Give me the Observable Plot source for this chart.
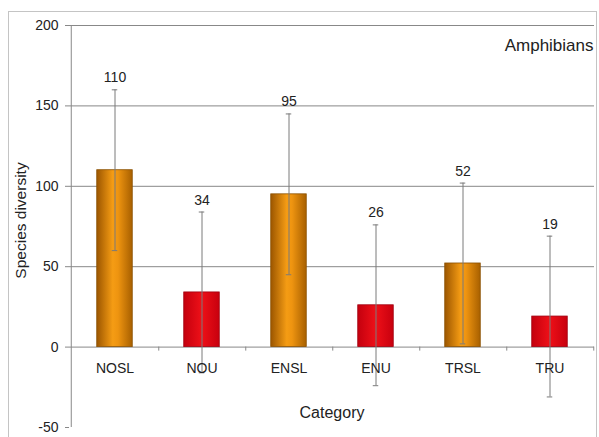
<!DOCTYPE html>
<html>
<head>
<meta charset="utf-8">
<script src="https://cdn.jsdelivr.net/npm/d3@7"></script>
<script src="https://cdn.jsdelivr.net/npm/@observablehq/plot@0.6"></script>
<style>
  html, body { margin: 0; padding: 0; background: #ffffff; }
  #wrap { position: relative; width: 599px; height: 437px; overflow: hidden; }
  #border { position: absolute; left: 8px; top: 11px; width: 589px; height: 440px; border: 1px solid #c4c4c4; box-sizing: border-box; }
  #wrap svg { position: absolute; left: 0; top: 0; display: block; }
</style>
</head>
<body>
<div id="wrap"><div id="border"></div></div>
<script>
const categories = ["NOSL", "NOU", "ENSL", "ENU", "TRSL", "TRU"];
const values = [110, 34, 95, 26, 52, 19];
const errors = [50, 50, 50, 50, 50, 50];
const groups = ["SL", "U", "SL", "U", "SL", "U"];
const yTicks = [-50, 0, 50, 100, 150, 200];
const yLabel = "Species diversity";
const xLabel = "Category";
const panelTitle = "Amphibians";

const data = categories.map((c, i) => ({cat: c, v: values[i], e: errors[i], g: groups[i]}));

const W = 599, H = 437, mL = 69, mR = 5, mT = 25, mB = 10;
const bw = (W - mL - mR) / categories.length;
const barInset = (bw - 36) / 2;
const capInset = bw / 2 - 3;
const grey = "#888888";

const chart = Plot.plot({
  width: W, height: H,
  marginLeft: mL, marginRight: mR, marginTop: mT, marginBottom: mB,
  style: {fontFamily: "'Liberation Sans', Arial, sans-serif", fontSize: "14px", color: "#222", background: "transparent"},
  x: {type: "band", domain: categories, padding: 0, axis: null},
  y: {domain: [-50, 200], axis: null},
  marks: [
    Plot.ruleY(yTicks.filter(t => t > 0), {stroke: grey, strokeWidth: 1}),
    Plot.ruleY([0], {stroke: grey, strokeWidth: 1}),
    Plot.ruleX(categories, {x: d => d, y1: 0, y2: -2.5, dx: bw / 2, stroke: grey}),
    Plot.ruleX([categories[0]], {x: d => d, dx: -bw / 2, y1: -50, y2: 200, stroke: grey}),
    Plot.axisY(yTicks, {tickSize: 4, tickPadding: 7, stroke: grey, fill: "#222", fontSize: 14, label: null, tickFormat: d => String(d)}),
    Plot.barY(data.filter(d => d.g === "SL"), {x: "cat", y: "v", fill: "url(#gradO)", stroke: "#8a5000", strokeWidth: 0.8, insetLeft: barInset, insetRight: barInset}),
    Plot.barY(data.filter(d => d.g === "U"), {x: "cat", y: "v", fill: "url(#gradR)", stroke: "#a00010", strokeWidth: 0.8, insetLeft: barInset, insetRight: barInset}),
    Plot.ruleX(data, {x: "cat", y1: d => d.v - d.e, y2: d => d.v + d.e, stroke: "#7a7a7a", strokeWidth: 1}),
    Plot.tickY(data, {x: "cat", y: d => d.v + d.e, insetLeft: capInset, insetRight: capInset, stroke: "#7a7a7a"}),
    Plot.tickY(data, {x: "cat", y: d => d.v - d.e, insetLeft: capInset, insetRight: capInset, stroke: "#7a7a7a"}),
    Plot.text(data, {x: "cat", y: d => d.v + d.e, text: d => String(d.v), dy: -12, fontSize: 14, fill: "#222"}),
    Plot.text(categories, {x: d => d, y: 0, text: d => d, dy: 21, fontSize: 14, fill: "#222"}),
    Plot.text([yLabel], {frameAnchor: "left", textAnchor: "middle", rotate: -90, dx: -48, dy: -6, text: d => d, fontSize: 15.5, fill: "#222"}),
    Plot.text([xLabel], {frameAnchor: "bottom", textAnchor: "middle", dy: -10, text: d => d, fontSize: 16, fill: "#222"}),
    Plot.text([panelTitle], {frameAnchor: "top-right", textAnchor: "end", dx: -1, dy: 13, text: d => d, fontSize: 17, fill: "#222"})
  ]
});

// gradient definitions for the cylindrical bar shading
const ns = "http://www.w3.org/2000/svg";
const defs = document.createElementNS(ns, "defs");
function grad(id, stops) {
  const g = document.createElementNS(ns, "linearGradient");
  g.setAttribute("id", id);
  g.setAttribute("x1", "0"); g.setAttribute("x2", "1");
  g.setAttribute("y1", "0"); g.setAttribute("y2", "0");
  for (const [o, c] of stops) {
    const s = document.createElementNS(ns, "stop");
    s.setAttribute("offset", o);
    s.setAttribute("stop-color", c);
    g.appendChild(s);
  }
  defs.appendChild(g);
}
grad("gradO", [[0, "#9c5600"], [0.45, "#f59c14"], [0.6, "#ee9410"], [1, "#a86000"]]);
grad("gradR", [[0, "#c4000e"], [0.5, "#ee1018"], [1, "#c8000e"]]);
chart.insertBefore(defs, chart.firstChild);

document.getElementById("wrap").appendChild(chart);
</script>
</body>
</html>
